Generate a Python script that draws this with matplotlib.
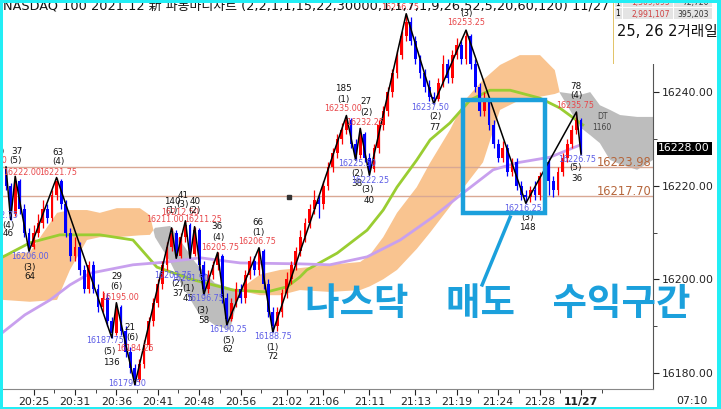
import matplotlib.pyplot as plt
import matplotlib.transforms as mtransforms
from matplotlib.patches import Rectangle
from matplotlib.ticker import FixedLocator
import numpy as np

plt.rcParams['font.family'] = ['DejaVu Sans', 'Noto Sans CJK KR']

# ---- candle data (open = previous close) ----
first_open = 16223.5
closes = [16220, 16214, 16221, 16215, 16210, 16207, 16210, 16212, 16215, 16213,
          16218, 16221, 16216, 16210, 16205, 16207, 16202, 16198, 16203, 16198,
          16194, 16196, 16191, 16188.5, 16194, 16189, 16184.5, 16181, 16178.5, 16182,
          16186, 16191, 16195, 16199, 16203, 16207, 16210, 16205, 16209, 16211.5,
          16205.5, 16210.5, 16203, 16198, 16201, 16203, 16205, 16196, 16191.5, 16195,
          16198, 16196, 16201, 16204, 16202, 16206, 16199, 16193, 16190, 16193,
          16197, 16200, 16203, 16206, 16209, 16212, 16215, 16217, 16216, 16220,
          16224, 16227, 16230, 16232, 16234, 16229, 16226.5, 16231, 16226, 16223.5,
          16228, 16233, 16236, 16240, 16244, 16248, 16252, 16255, 16251, 16247,
          16244, 16241, 16239, 16238.5, 16242, 16246, 16243, 16248, 16250, 16247,
          16252, 16246, 16241, 16236, 16238, 16233, 16229, 16226, 16228, 16223,
          16225, 16220, 16218, 16217.5, 16219, 16218, 16222, 16225, 16221, 16219,
          16223, 16226, 16229, 16232, 16234, 16228]
highs = [16224, 16220.5, 16222, 16221.5, 16216, 16211, 16211.5, 16214, 16217, 16216,
         16219, 16221.75, 16221.5, 16217, 16211, 16209, 16208, 16203, 16204, 16204,
         16199, 16197.5, 16197, 16192, 16195, 16194.5, 16190, 16185.5, 16182, 16183,
         16187, 16192, 16196, 16200, 16204, 16208, 16211, 16210.5, 16210, 16212.5,
         16212, 16211.25, 16211, 16204, 16202, 16204, 16205.75, 16205.5, 16197, 16196,
         16199.5, 16199, 16202, 16205, 16205, 16206.75, 16206.5, 16200, 16194, 16194,
         16198, 16201.5, 16204, 16207, 16210.5, 16213, 16216, 16219, 16218, 16221,
         16225, 16228, 16231, 16233.5, 16235, 16234.5, 16230, 16232.25, 16231.5, 16227,
         16229, 16234, 16237, 16241, 16245, 16249, 16253, 16256.75, 16256, 16252,
         16248, 16245, 16242.5, 16240, 16243, 16248, 16247, 16249, 16251.5, 16251,
         16253.25, 16252.5, 16247, 16242, 16240, 16239, 16234, 16230, 16229.5, 16229,
         16226, 16226, 16221, 16219, 16220, 16221, 16223, 16226, 16226, 16222,
         16224, 16227, 16230, 16233, 16235.75, 16234.5]
lows = [16219, 16212.75, 16213.5, 16214, 16209, 16206, 16206.5, 16209, 16211, 16212,
        16212.5, 16217, 16215, 16209, 16204, 16204, 16201, 16197, 16197, 16197,
        16193, 16193, 16190, 16187.5, 16188, 16188, 16183.5, 16180, 16177.5, 16178,
        16181, 16185, 16190, 16194, 16198, 16202, 16206, 16204.5, 16204.5, 16208,
        16204.5, 16205, 16202, 16196.75, 16197, 16200, 16202, 16195, 16190.25, 16191,
        16194, 16195, 16195, 16200, 16201, 16201, 16198, 16192, 16188.75, 16189,
        16192, 16196, 16199, 16202, 16205, 16208, 16211, 16214, 16213, 16215,
        16219, 16223, 16226, 16229, 16231, 16228, 16225.5, 16226, 16225, 16222.25,
        16223, 16227, 16232, 16235, 16239, 16243, 16247, 16251, 16250, 16246,
        16243, 16240, 16238, 16237.5, 16238, 16241, 16242, 16242, 16247, 16246,
        16246, 16245, 16240, 16235, 16235, 16232, 16228, 16225, 16225, 16222,
        16222, 16219, 16217, 16216.25, 16216.5, 16217, 16217, 16221, 16218, 16217.5,
        16218, 16222, 16225, 16228, 16231, 16226.75]

# ---- zigzag wave pivots ----
zz_idx = [0, 1, 2, 5, 11, 23, 24, 28, 36, 37, 39, 40, 41, 43, 46, 48, 55, 58,
          74, 76, 77, 79, 87, 93, 100, 113, 124, 125]
zz_val = [16224, 16212.75, 16222, 16206, 16221.75, 16187.5, 16195, 16177.5,
          16211, 16204.5, 16212.5, 16204.5, 16211.25, 16196.75, 16205.75, 16190.25,
          16206.75, 16188.75, 16235, 16225.5, 16232.25, 16222.25, 16256.75,
          16237.5, 16253.25, 16216.25, 16235.75, 16226.75]

# ---- moving averages ----
ma_g_idx = [-0.65, 5.2, 11.7, 20.4, 27.6, 32.8, 40.7, 49.3, 56.7, 61.1, 63.9, 65.4,
            72.0, 78.5, 82.0, 85.0, 89.3, 92.2, 96.5, 100.9, 105.2, 109.6, 116.1,
            120.4, 125.4]
ma_g_val = [16204.8, 16207.8, 16209.5, 16209.5, 16208.4, 16202.6, 16199.9, 16197.7,
            16197.3, 16198.4, 16200.5, 16202.0, 16205.6, 16210.5, 16214.8, 16219.7,
            16225.5, 16229.8, 16233.4, 16238.3, 16240.4, 16240.4, 16238.7, 16236.6,
            16233.0]
ma_p_idx = [-0.65, 4.1, 9.6, 13.9, 18.3, 27.6, 35.0, 42.2, 50.9, 63.9, 70.4, 78.5,
            85.7, 92.8, 99.3, 105.9, 111.1, 118.3, 124.8]
ma_p_val = [16188.7, 16192.4, 16195.6, 16198.8, 16201.3, 16203.1, 16203.7, 16204.6,
            16203.5, 16203.3, 16203.1, 16204.8, 16208.4, 16213.3, 16218.4, 16223.4,
            16224.9, 16226.1, 16228.7]

# ---- ichimoku cloud spans ----
cloud_idx = [-0.65, 5.2, 11.1, 13.9, 17.6, 20.4, 24.1, 29.1, 31.3, 32.4, 35.7, 37.8,
             41.1, 42.2, 45.4, 48.7, 50.9, 55.2, 59.6, 63.9, 70.4, 77.0, 79.1, 82.0,
             85.0, 89.3, 92.2, 96.5, 99.8, 103.7, 107.4, 111.7, 116.1, 119.3, 120.4,
             124.8, 127.0, 129.1, 131.3, 133.5, 137.2, 140.65]
span_a = [16205.2, 16205.8, 16214.2, 16214.8, 16214.8, 16214.2, 16215.2, 16215.2,
          16213.7, 16209.0, 16203.7, 16199.5, 16194.0, 16192.4, 16190.2, 16189.2,
          16197.9, 16201.0, 16202.0, 16202.4, 16203.1, 16203.7, 16205.2, 16209.0,
          16214.2, 16219.7, 16224.9, 16231.9, 16238.3, 16242.6, 16245.8, 16247.9,
          16247.9, 16244.7, 16239.8, 16232.5, 16230.8, 16229.1, 16225.5, 16224.6,
          16223.4, 16225.5]
span_b = [16195.6, 16195.2, 16195.6, 16202.0, 16208.4, 16209.0, 16209.0, 16209.4,
          16209.5, 16211.0, 16211.4, 16208.4, 16203.7, 16202.5, 16199.2, 16198.2,
          16197.6, 16196.6, 16196.6, 16197.7, 16197.3, 16197.7, 16198.5, 16200.0,
          16202.0, 16206.5, 16210.0, 16215.5, 16220.0, 16225.0, 16236.2, 16238.3,
          16239.0, 16239.6, 16240.0, 16239.4, 16240.0, 16237.2, 16236.2, 16235.1,
          16234.7, 16234.7]

# ---- reference levels ----
levels = [16223.98, 16217.70]
last_price = 16228.00

# ---- axis labels ----
time_idx = [6, 15, 24, 33, 42, 51, 61, 69, 79, 89, 98, 107, 116, 125]
time_lbl = ['20:25', '20:31', '20:36', '20:41', '20:48', '20:56', '21:02', '21:06',
            '21:11', '21:13', '21:19', '21:24', '21:28', '11/27']
price_ticks = [16180, 16200, 16220, 16240]

# ---- wave labels: (index, price, text, kind) ----
wave_labels = [
    (-1.3, 16229.8, '4', 'n'), (-1.74, 16227.4, '(4)', 'n'), (-3.9, 16225.3, '16224.00', 'r'),
    (2.4, 16227.4, '37', 'n'), (2.0, 16225.3, '(5)', 'n'), (3.5, 16222.9, '16222.00', 'r'),
    (11.3, 16227.2, '63', 'n'), (11.3, 16225.1, '(4)', 'n'), (11.3, 16222.9, '16221.75', 'r'),
    (-1.5, 16213.7, '16212.75', 'b'), (0.43, 16211.6, '(4)', 'n'), (0.43, 16209.7, '46', 'n'),
    (5.2, 16204.8, '16206.00', 'b'), (5.2, 16202.6, '(3)', 'n'), (5.2, 16200.5, '64', 'n'),
    (24.1, 16200.5, '29', 'n'), (24.1, 16198.4, '(6)', 'n'), (24.8, 16196.2, '16195.00', 'r'),
    (21.5, 16187.0, '16187.75', 'b'), (22.6, 16184.5, '(5)', 'n'), (23.0, 16182.3, '136', 'n'),
    (27.0, 16189.6, '21', 'n'), (27.4, 16187.5, '(6)', 'n'), (28.0, 16185.3, '16184.25', 'r'),
    (26.3, 16177.8, '16179.50', 'b'), (26.5, 16175.7, '(7)', 'n'),
    (36.1, 16216.7, '140', 'n'), (35.9, 16214.8, '(1)', 'n'), (34.6, 16212.7, '16211.00', 'r'),
    (38.5, 16218.0, '41', 'n'), (38.3, 16215.9, '(3)', 'n'), (37.8, 16214.2, '16212.50', 'r'),
    (41.1, 16216.7, '40', 'n'), (40.9, 16214.8, '(2)', 'n'), (42.8, 16212.7, '16211.25', 'r'),
    (45.9, 16211.2, '36', 'n'), (46.1, 16209.0, '(4)', 'n'), (46.5, 16206.9, '16205.75', 'r'),
    (54.8, 16212.2, '66', 'n'), (54.8, 16210.1, '(1)', 'n'), (54.6, 16208.0, '16206.75', 'r'),
    (36.3, 16200.9, '16203.75', 'b'), (37.2, 16199.0, '(2)', 'n'), (37.4, 16196.9, '37', 'n'),
    (40.0, 16200.1, '16201.50', 'b'), (39.6, 16198.1, '(1)', 'n'), (39.6, 16196.0, '45', 'n'),
    (43.3, 16195.8, '16196.75', 'b'), (42.8, 16193.4, '(3)', 'n'), (43.0, 16191.3, '58', 'n'),
    (48.3, 16189.2, '16190.25', 'b'), (48.3, 16187.0, '(5)', 'n'), (48.3, 16184.9, '62', 'n'),
    (58.0, 16187.7, '16188.75', 'b'), (58.0, 16185.5, '(1)', 'n'), (58.0, 16183.4, '72', 'n'),
    (73.3, 16240.7, '185', 'n'), (73.3, 16238.5, '(1)', 'n'), (73.3, 16236.6, '16235.00', 'r'),
    (78.3, 16237.9, '27', 'n'), (78.3, 16235.7, '(2)', 'n'), (78.0, 16233.4, '16232.25', 'r'),
    (76.3, 16224.8, '16225.50', 'b'), (76.3, 16222.7, '(2)', 'n'), (76.3, 16220.4, '38', 'n'),
    (79.1, 16221.2, '16222.25', 'b'), (78.5, 16219.1, '(3)', 'n'), (78.9, 16216.9, '40', 'n'),
    (85.7, 16258.0, '16256.75', 'r'),
    (92.2, 16236.8, '16237.50', 'b'), (93.3, 16234.7, '(2)', 'n'), (93.3, 16232.5, '77', 'n'),
    (100.2, 16256.7, '(3)', 'n'), (100.0, 16254.8, '16253.25', 'r'),
    (112.4, 16215.2, '16216.25', 'b'), (113.3, 16213.1, '(3)', 'n'), (113.3, 16211.0, '148', 'n'),
    (123.9, 16241.3, '78', 'n'), (123.9, 16239.2, '(4)', 'n'), (123.7, 16237.1, '16235.75', 'r'),
    (124.1, 16225.7, '16226.75', 'b'), (123.9, 16223.8, '(5)', 'n'), (124.1, 16221.6, '36', 'n'),
]
label_colors = {'n': '#111111', 'r': '#E8474A', 'b': '#5C5CE6'}

W, H = 721, 409
fig = plt.figure(figsize=(W / 100, H / 100), dpi=100)
ax = fig.add_axes([3 / W, 1 - 389 / H, 650 / W, 386 / H])

# cloud
ca = np.array(span_a)
cb = np.array(span_b)
ax.fill_between(cloud_idx, ca, cb, where=ca >= cb, interpolate=True,
                color='#F9C490', lw=0, zorder=1)
ax.fill_between(cloud_idx, ca, cb, where=ca < cb, interpolate=True,
                color='#BDBDBD', lw=0, zorder=1)

for lv in levels:
    ax.axhline(lv, color='#D9A894', lw=1, zorder=2)
    ax.text(0.998, lv + 0.3, f'{lv:.2f}', transform=mtransforms.blended_transform_factory(
        ax.transAxes, ax.transData), ha='right', va='baseline', fontsize=8.3,
        color='#B5653A', zorder=6)

ax.plot(ma_g_idx, ma_g_val, color='#9ACD32', lw=2, zorder=3)
ax.plot(ma_p_idx, ma_p_val, color='#C8A0EE', lw=2, zorder=3)

# candles
c = np.array(closes)
o = np.array([first_open] + closes[:-1])
idx = np.arange(len(c))
cols = np.where(c >= o, '#FF0000', '#0000FF')
ax.vlines(idx, lows, highs, colors=cols, lw=0.9, zorder=4)
ax.bar(idx, c - o, bottom=o, width=0.6, color=cols, lw=0, zorder=4)

ax.plot(zz_idx, zz_val, color='black', lw=1.1, zorder=5)
ax.plot([61.5], [16217.6], marker='s', ms=3, color='#333333', zorder=5)

for xi, yv, t, k in wave_labels:
    fs = 6.3 if k == 'n' else 5.8
    ax.text(xi, yv, t, ha='center', va='center', fontsize=fs,
            color=label_colors[k], zorder=6, clip_on=True)
ax.text(129.6, 16234.7, 'DT', ha='center', va='center', fontsize=5.5, color='#444444', zorder=6)
ax.text(129.6, 16232.5, '1160', ha='center', va='center', fontsize=5.5, color='#444444', zorder=6)

# highlight box and pointer
ax.add_patch(Rectangle((99.35, 16214.2), 17.85, 24.1, fill=False,
                       edgecolor='#1BA0DC', lw=3.2, zorder=7))
ax.plot([109.6, 103.5], [16213.3, 16198.8], color='#1BA0DC', lw=2.5, zorder=7)

ax.set_xlim(-0.65, 140.65)
ax.set_ylim(16176.56, 16259.04)
ax.yaxis.tick_right()
ax.set_yticks(price_ticks)
ax.set_yticklabels([f'{p:.2f}' for p in price_ticks])
ax.yaxis.set_minor_locator(FixedLocator([16190, 16210, 16230, 16250]))
ax.set_xticks(time_idx)
ax.set_xticklabels(time_lbl)
ax.xaxis.set_minor_locator(FixedLocator([t + 4.5 for t in time_idx]))
ax.get_xticklabels()[-1].set_fontweight('bold')
ax.tick_params(axis='both', which='both', direction='out', labelsize=7.8,
               colors='#222222', pad=2)
ax.tick_params(axis='both', which='major', length=4)
ax.tick_params(axis='both', which='minor', length=3)
ax.spines['left'].set_visible(False)
ax.spines['top'].set_visible(False)
ax.spines['right'].set_color('#555555')
ax.spines['bottom'].set_color('#888888')

bt = mtransforms.blended_transform_factory(ax.transAxes, ax.transData)
ax.text(1.008, last_price, f'{last_price:.2f}', transform=bt, ha='left', va='center',
        fontsize=7.8, color='white', zorder=8,
        bbox=dict(facecolor='black', edgecolor='none', pad=1.2))

# title
fig.text(3 / W, 1 - 9.5 / H,
         'NASDAQ 100 2021.12 新 파동마디차트 (2,2,1,1,15,22,30000,1,1,7,1,9,26,52,5,20,60,120) 11/27',
         fontsize=9.3, ha='left', va='baseline', color='#111111', zorder=3)

# top-right info panel
ff = fig.transFigure
fig.patches.append(Rectangle((613 / W, 1 - 64 / H), 104 / W, 64 / H, transform=ff,
                             facecolor='white', edgecolor='none', zorder=5))
fig.patches.append(Rectangle((613 / W, 1 - 64 / H), 0.8 / W, 64 / H, transform=ff,
                             facecolor='#E2C46A', edgecolor='none', zorder=5))
for y0, h in [(0, 7), (8, 11)]:
    for x0, w in [(615, 7), (623, 50), (674, 38)]:
        fig.patches.append(Rectangle((x0 / W, 1 - (y0 + h) / H), w / W, h / H, transform=ff,
                                     facecolor='#E4E4E4', edgecolor='none', zorder=5))
fig.text(618 / W, 1 - 3 / H, '1', fontsize=5.5, ha='center', va='center', zorder=6)
fig.text(670 / W, 1 - 3 / H, '1,309,095', fontsize=5.5, color='#D04040', ha='right', va='center', zorder=6)
fig.text(709 / W, 1 - 3 / H, '72,720', fontsize=5.5, color='#333333', ha='right', va='center', zorder=6)
fig.text(618 / W, 1 - 14 / H, '1', fontsize=5.5, ha='center', va='center', zorder=6)
fig.text(670 / W, 1 - 14 / H, '2,991,107', fontsize=5.5, color='#D04040', ha='right', va='center', zorder=6)
fig.text(709 / W, 1 - 14 / H, '395,203', fontsize=5.5, color='#333333', ha='right', va='center', zorder=6)
fig.text(617 / W, 1 - 32 / H, '25, 26 2거래일', fontsize=10.5, ha='left', va='center',
         color='#111111', zorder=6)

fig.text(692 / W, 1 - 401 / H, '07:10', fontsize=7.8, ha='center', va='center', color='#222222')

# big annotation text
fig.text(498 / W, 1 - 303 / H, '나스닥\u3000매도\u3000수익구간', fontsize=27,
         fontweight='bold', family=['Noto Sans CJK KR'], color='#1BA0DC',
         ha='center', va='center', zorder=9)

# cyan frame
for x0, y0, w, h in [(0, 0, 3, H), (717, 0, 4, H), (0, 0, W, 2.5), (0, 406.5, W, 2.5)]:
    fig.patches.append(Rectangle((x0 / W, 1 - (y0 + h) / H), w / W, h / H, transform=ff,
                                 facecolor='#22EEF5', edgecolor='none', zorder=10))

fig.savefig('out.png', dpi=100)
